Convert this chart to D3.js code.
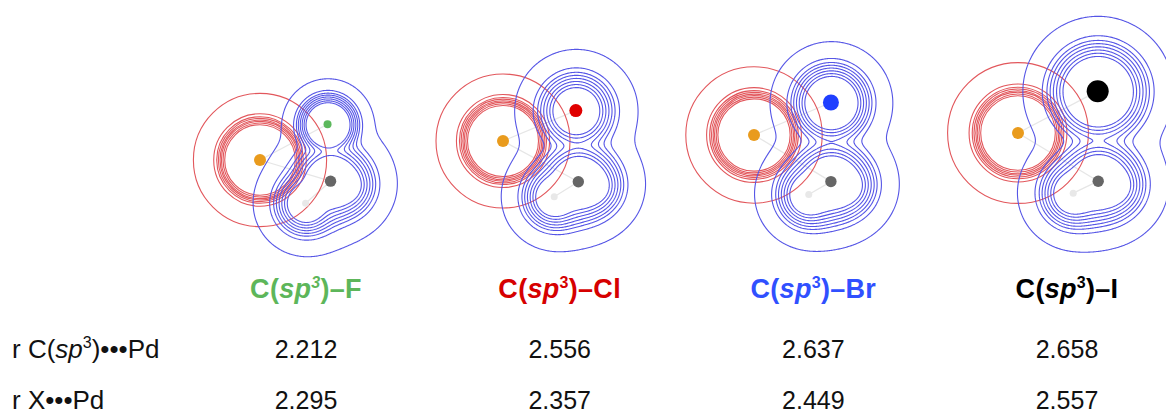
<!DOCTYPE html>
<html>
<head>
<meta charset="utf-8">
<style>
  body { margin: 0; background: #fff; }
  svg { display: block; font-family: "Liberation Sans", Arial, Helvetica, sans-serif; }
  .pd-ring { fill: none; stroke: #e2575c; stroke-width: 1.1; }
  .frag-line { fill: none; stroke: #5656e6; stroke-width: 1.1; }
  .bond { stroke: #e6e6e6; stroke-width: 1.3; }
  .label { font-size: 27px; font-weight: bold; text-anchor: middle; letter-spacing: 0.3px; }
  .value { font-size: 25px; text-anchor: middle; fill: #111; }
  .rowname { font-size: 26px; fill: #111; }
</style>
</head>
<body>
<svg width="1166" height="416"></svg>
<script src="https://d3js.org/d3.v7.min.js"></script>
<script>
// table
const halides = ["F", "Cl", "Br", "I"];
const rCPd = [2.212, 2.556, 2.637, 2.658];   // r C(sp3)...Pd, Å
const rXPd = [2.295, 2.357, 2.449, 2.557];   // r X...Pd, Å
const rowNames = ["r C(sp3)•••Pd", "r X•••Pd"];

// geometry (direction Pd->atom, deg, y down)
const angleX = [-27.9, -22.7, -22.9, -27.7];
const angleC = [16.7, 28.4, 31.2, 31.0];
const hOffset = [[-0.75, 0.66], [-0.72, 0.45], [-0.65, 0.38], [-0.71, 0.34]]; // in-plane H from C, Å
const hHidden = [0.45, 0.12];  // out-of-plane H's, projected, from C, Å

// density model: core radius and decay per atom, Å
const xCore = [0.66, 0.70, 0.78, 1.00];
const xDecay = [0.12, 0.19, 0.17, 0.19];
const cCore = 0.76, cDecay = 0.19;
const hCore = 0.56, hDecay = 0.17;
const hHidCore = 0.36;
const fragLevels = [0, 0.48, 0.96, 1.44, 1.92, 2.4, 3.1, 6.0];
const pdRings = [1.06, 1.11, 1.16, 1.20, 1.25, 1.30, 1.39, 2.0];

// layout / style
const pdAnchor = [[260, 160], [503, 141], [754, 135], [1018, 133]];
const pxPerA = [33.3, 33.5, 34.1, 35.2];
const labelColor = ["#5db65a", "#d60000", "#3050ff", "#000000"];
const xDotColor = ["#5cb85c", "#e00000", "#1f3fff", "#000000"];
const xDotR = [4, 6.5, 8, 11];

const svg = d3.select("svg");
const col = d3.scalePoint().domain(halides).range([306, 1067]);
const rad = a => a * Math.PI / 180;

halides.forEach((h, i) => {
  const k = pxPerA[i];
  const [ox, oy] = pdAnchor[i];
  const sx = d3.scaleLinear().domain([0, 1]).range([ox, ox + k]);
  const sy = d3.scaleLinear().domain([0, 1]).range([oy, oy + k]);

  const X = [rXPd[i] * Math.cos(rad(angleX[i])), rXPd[i] * Math.sin(rad(angleX[i]))];
  const C = [rCPd[i] * Math.cos(rad(angleC[i])), rCPd[i] * Math.sin(rad(angleC[i]))];
  const H = [C[0] + hOffset[i][0], C[1] + hOffset[i][1]];
  const H2 = [C[0] + hHidden[0], C[1] + hHidden[1]];
  const atoms = [
    { p: X, R: xCore[i], s: xDecay[i] },
    { p: C, R: cCore, s: cDecay },
    { p: H, R: hCore, s: hDecay },
    { p: H2, R: hHidCore, s: hDecay }
  ];

  const g = svg.append("g");

  // faint bonds
  g.selectAll("line.bond")
    .data([[[0, 0], X], [[0, 0], C], [C, H]])
    .join("line").attr("class", "bond")
    .attr("x1", d => sx(d[0][0])).attr("y1", d => sy(d[0][1]))
    .attr("x2", d => sx(d[1][0])).attr("y2", d => sy(d[1][1]));

  // Pd rings
  g.selectAll("circle.pd-ring")
    .data(pdRings)
    .join("circle").attr("class", "pd-ring")
    .attr("cx", sx(0)).attr("cy", sy(0))
    .attr("r", d => d * k);

  // fragment density grid, 1px steps
  const x0 = -1.5, x1 = 6.0, y0 = -4.3, y1 = 3.9;
  const nx = Math.ceil((x1 - x0) * k), ny = Math.ceil((y1 - y0) * k);
  const values = new Float64Array(nx * ny);
  for (let j = 0; j < ny; j++) {
    const ay = y0 + j / k;
    for (let m = 0; m < nx; m++) {
      const ax = x0 + m / k;
      let sum = 0;
      for (const a of atoms) {
        const d = Math.hypot(ax - a.p[0], ay - a.p[1]);
        sum += Math.exp(-(d - a.R) / a.s);
      }
      values[j * nx + m] = Math.log(sum);
    }
  }
  const contours = d3.contours().size([nx, ny]).thresholds(fragLevels.map(t => -t))(values);
  const path = d3.geoPath(d3.geoIdentity().translate([sx(x0), sy(y0)]));
  g.selectAll("path.frag-line")
    .data(contours)
    .join("path").attr("class", "frag-line")
    .attr("d", path);

  // atoms
  const dots = [
    { p: [0, 0], r: 6, c: "#e99b1d" },
    { p: X, r: xDotR[i], c: xDotColor[i] },
    { p: C, r: 5.7, c: "#666666" },
    { p: H, r: 3.5, c: "#e8e8e8" }
  ];
  g.selectAll("circle.atom")
    .data(dots)
    .join("circle").attr("class", "atom")
    .attr("cx", d => sx(d.p[0])).attr("cy", d => sy(d.p[1]))
    .attr("r", d => d.r).attr("fill", d => d.c);

  // column label
  const t = svg.append("text").attr("class", "label")
    .attr("x", col(h)).attr("y", 298).attr("fill", labelColor[i]);
  t.append("tspan").text("C(");
  t.append("tspan").attr("font-style", "italic").text("sp");
  t.append("tspan").attr("font-size", "16px").attr("dy", -10)
    .attr("font-style", i === 0 ? "italic" : null).text("3");
  t.append("tspan").attr("dy", 10).text(")–" + h);

  // values
  svg.append("text").attr("class", "value")
    .attr("x", col(h)).attr("y", 358).text(rCPd[i].toFixed(3));
  svg.append("text").attr("class", "value")
    .attr("x", col(h)).attr("y", 409).text(rXPd[i].toFixed(3));
});

// row names
const r1 = svg.append("text").attr("class", "rowname").attr("x", 12).attr("y", 358);
r1.append("tspan").text("r C(");
r1.append("tspan").attr("font-style", "italic").text("sp");
r1.append("tspan").attr("font-size", "16px").attr("dy", -10).text("3");
r1.append("tspan").attr("dy", 10).text(")•••Pd");
svg.append("text").attr("class", "rowname").attr("x", 12).attr("y", 409).text(rowNames[1]);
</script>
</body>
</html>
